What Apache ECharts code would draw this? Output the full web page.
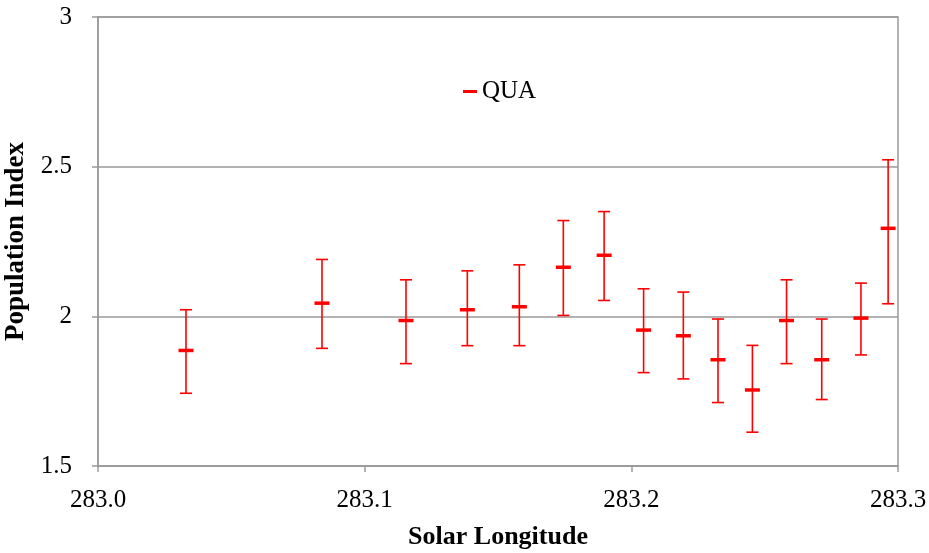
<!DOCTYPE html>
<html>
<head>
<meta charset="utf-8">
<script src="https://cdn.jsdelivr.net/npm/echarts@6/dist/echarts.min.js"></script>
<style>
  html, body { margin: 0; padding: 0; background: #fff; }
  #main { width: 929px; height: 553px; }
</style>
</head>
<body>
<div id="main"></div>
<script>
  // values
  const solarLongitude = [283.033, 283.084, 283.1155, 283.1385, 283.158, 283.1745, 283.1898,
    283.2046, 283.2195, 283.2325, 283.2454, 283.2582, 283.2714, 283.2861, 283.2963];
  const populationIndex = [1.886, 2.044, 1.986, 2.022, 2.032, 2.164, 2.204,
    1.954, 1.935, 1.855, 1.754, 1.986, 1.855, 1.994, 2.294];
  const upperBound = [2.022, 2.19, 2.122, 2.152, 2.172, 2.32, 2.35,
    2.092, 2.081, 1.991, 1.903, 2.122, 1.991, 2.111, 2.523];
  const lowerBound = [1.743, 1.893, 1.842, 1.902, 1.902, 2.003, 2.053,
    1.812, 1.791, 1.712, 1.613, 1.842, 1.722, 1.871, 2.042];
  const xTicks = [283.0, 283.1, 283.2, 283.3];
  const yTicks = [1.5, 2, 2.5, 3];

  const red = '#ff0000';
  const serif = 'Liberation Serif';

  let rows = solarLongitude.map((x, i) => [x, populationIndex[i], lowerBound[i], upperBound[i]]);

  let main = document.getElementById('main');
  let myechart = echarts.init(main);
  let option = {
    animation: false,
    backgroundColor: '#fff',
    grid: {
      left: 98,
      right: 31,
      top: 17,
      bottom: 87,
      outerBoundsMode: 'none',
      containLabel: false,
      show: true,
      borderColor: '#9a9a9a',
      borderWidth: 1.5
    },
    legend: {
      left: 458,
      top: 74,
      icon: 'rect',
      itemWidth: 14,
      itemHeight: 3,
      itemGap: 6,
      textStyle: { fontFamily: serif, fontSize: 25, color: '#000' },
      data: ['QUA']
    },
    xAxis: {
      type: 'value',
      min: xTicks[0],
      max: xTicks[xTicks.length - 1],
      interval: 0.1,
      name: 'Solar Longitude',
      nameLocation: 'middle',
      nameGap: 58,
      nameTextStyle: { fontFamily: serif, fontSize: 26, fontWeight: 'bold', color: '#000' },
      axisLine: { show: true, lineStyle: { color: '#9a9a9a', width: 1.5 } },
      axisTick: { show: true, length: 6, lineStyle: { color: '#9a9a9a', width: 1.5 } },
      axisLabel: {
        margin: 22,
        fontFamily: serif,
        fontSize: 25,
        color: '#000',
        formatter: v => v.toFixed(1)
      },
      splitLine: { show: false }
    },
    yAxis: {
      type: 'value',
      min: yTicks[0],
      max: yTicks[yTicks.length - 1],
      interval: 0.5,
      name: 'Population Index',
      nameLocation: 'middle',
      nameGap: 65,
      nameTextStyle: { fontFamily: serif, fontSize: 27, fontWeight: 'bold', color: '#000' },
      axisLine: { show: true, lineStyle: { color: '#9a9a9a', width: 1.5 } },
      axisTick: { show: true, length: 6, lineStyle: { color: '#9a9a9a', width: 1.5 } },
      axisLabel: { margin: 26, fontFamily: serif, fontSize: 25, color: '#000' },
      splitLine: { show: true, lineStyle: { color: '#9a9a9a', width: 1.5 } }
    },
    series: [{
      name: 'QUA',
      type: 'custom',
      itemStyle: { color: red },
      data: rows,
      renderItem: function (params, api) {
        let x = api.value(0);
        let mid = api.coord([x, api.value(1)]);
        let lo = api.coord([x, api.value(2)]);
        let hi = api.coord([x, api.value(3)]);
        let cap = 6;
        let half = 7.5;
        let thin = { stroke: red, lineWidth: 1.6 };
        return {
          type: 'group',
          children: [
            { type: 'line', shape: { x1: hi[0], y1: hi[1], x2: lo[0], y2: lo[1] }, style: thin },
            { type: 'line', shape: { x1: hi[0] - cap, y1: hi[1], x2: hi[0] + cap, y2: hi[1] }, style: thin },
            { type: 'line', shape: { x1: lo[0] - cap, y1: lo[1], x2: lo[0] + cap, y2: lo[1] }, style: thin },
            { type: 'line', shape: { x1: mid[0] - half, y1: mid[1], x2: mid[0] + half, y2: mid[1] },
              style: { stroke: red, lineWidth: 3.5 } }
          ]
        };
      }
    }]
  };
  myechart.setOption(option);
</script>
</body>
</html>
